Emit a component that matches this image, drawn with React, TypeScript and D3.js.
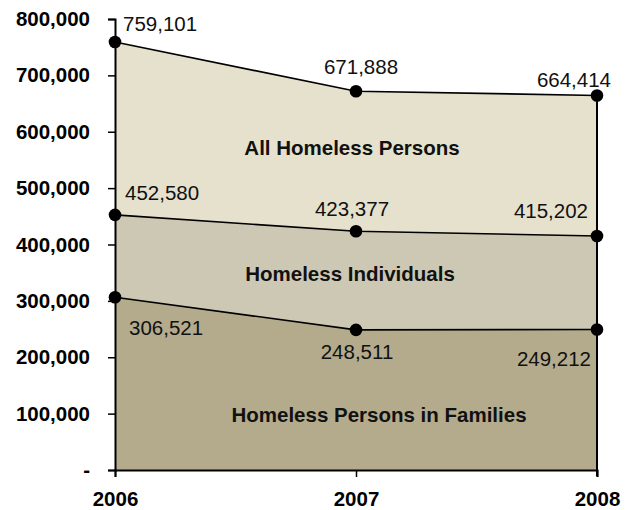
import React, { useEffect, useRef } from 'react';
import * as d3 from 'd3';

const years = [2006, 2007, 2008];
const allPersons = [759101, 671888, 664414];
const individuals = [452580, 423377, 415202];
const families = [306521, 248511, 249212];
const yTicks = [0, 100000, 200000, 300000, 400000, 500000, 600000, 700000, 800000];
const areaNames = ['All Homeless Persons', 'Homeless Individuals', 'Homeless Persons in Families'];

const width = 634;
const height = 510;
const font = '"Liberation Sans", Arial, sans-serif';

// label offsets from each dot: [anchor, dx, dy] per year
const labelPlace: Array<Array<[string, number, number]>> = [
    [['start', 8, -11], ['middle', 5, -17], ['end', 14, -8]],
    [['start', 10, -15], ['middle', -4, -15], ['end', -9, -18]],
    [['start', 14, 38], ['middle', 1, 29], ['end', -6, 36]],
];
const areaLabelPos = [[352, 155], [350, 281], [379, 422]];

function draw(svgRoot: SVGSVGElement) {
    const svg = d3.select(svgRoot);
    svg.selectChildren().remove();

    const x = d3.scaleLinear().domain([2006, 2008]).range([115, 597]);
    const y = d3.scaleLinear().domain([0, 800000]).range([470, 19]);

    const series = [allPersons, individuals, families];
    const fills = ['#e6e1cd', '#cdc8b4', '#b3ab8c'];

    const area = d3.area<number>()
        .x((d, i) => x(years[i]))
        .y0(y(0))
        .y1((d) => y(d));
    const line = d3.line<number>()
        .x((d, i) => x(years[i]))
        .y((d) => y(d));

    const g = svg.append('g');

    series.forEach((s, k) => {
        g.append('path')
            .datum(s)
            .attr('fill', fills[k])
            .attr('d', area);
    });

    // right edge
    g.append('line')
        .attr('x1', x(2008)).attr('x2', x(2008))
        .attr('y1', y(allPersons[2])).attr('y2', y(0) + 6)
        .attr('stroke', '#000').attr('stroke-width', 2);

    series.forEach((s) => {
        g.append('path')
            .datum(s)
            .attr('fill', 'none')
            .attr('stroke', '#000')
            .attr('stroke-width', 1.6)
            .attr('d', line);
    });

    // y axis
    const yAxis = g.append('g')
        .attr('transform', `translate(${x(2006)},0)`)
        .call(d3.axisLeft(y).tickValues(yTicks).tickSize(7).tickPadding(18)
            .tickFormat((d) => (+d === 0 ? '-' : d3.format(',')(+d))));
    yAxis.select('.domain').attr('stroke', '#000').attr('stroke-width', 2);
    yAxis.selectAll('.tick line').attr('stroke', '#000').attr('stroke-width', 1.5);
    yAxis.selectAll('.tick text')
        .attr('font-family', font).attr('font-size', 20.5).attr('font-weight', 'bold')
        .attr('fill', '#000');

    // x axis
    const xAxis = g.append('g')
        .attr('transform', `translate(0,${y(0)})`)
        .call(d3.axisBottom(x).tickValues(years).tickSize(7).tickPadding(14)
            .tickFormat((d) => String(d)));
    xAxis.select('.domain').attr('stroke', '#000').attr('stroke-width', 2);
    xAxis.selectAll('.tick line').attr('stroke', '#000').attr('stroke-width', 1.5);
    xAxis.selectAll('.tick text')
        .attr('font-family', font).attr('font-size', 20.5).attr('font-weight', 'bold')
        .attr('fill', '#000');

    // dots and labels
    series.forEach((s, k) => {
        g.selectAll(null)
            .data(s)
            .enter().append('circle')
            .attr('cx', (d, i) => x(years[i]))
            .attr('cy', (d) => y(d))
            .attr('r', 6.3)
            .attr('fill', '#000');
        g.selectAll(null)
            .data(s)
            .enter().append('text')
            .attr('x', (d, i) => x(years[i]) + labelPlace[k][i][1])
            .attr('y', (d, i) => y(d) + labelPlace[k][i][2])
            .attr('text-anchor', (d, i) => labelPlace[k][i][0])
            .attr('font-family', font)
            .attr('font-size', 20.5)
            .attr('fill', '#111')
            .text((d) => d3.format(',')(d));
    });

    areaNames.forEach((name, k) => {
        g.append('text')
            .attr('x', areaLabelPos[k][0])
            .attr('y', areaLabelPos[k][1])
            .attr('text-anchor', 'middle')
            .attr('font-family', font)
            .attr('font-size', 20.5)
            .attr('font-weight', 'bold')
            .attr('fill', '#111')
            .text(name);
    });
}

export default function App() {
    const svgRef = useRef<SVGSVGElement>(null);
    useEffect(() => {
        svgRef.current && draw(svgRef.current);
    }, []);
    return (
        <svg ref={svgRef} width={width} height={height}
            style={{ position: 'absolute', left: 0, top: 0, background: '#fff' }} />
    );
}
